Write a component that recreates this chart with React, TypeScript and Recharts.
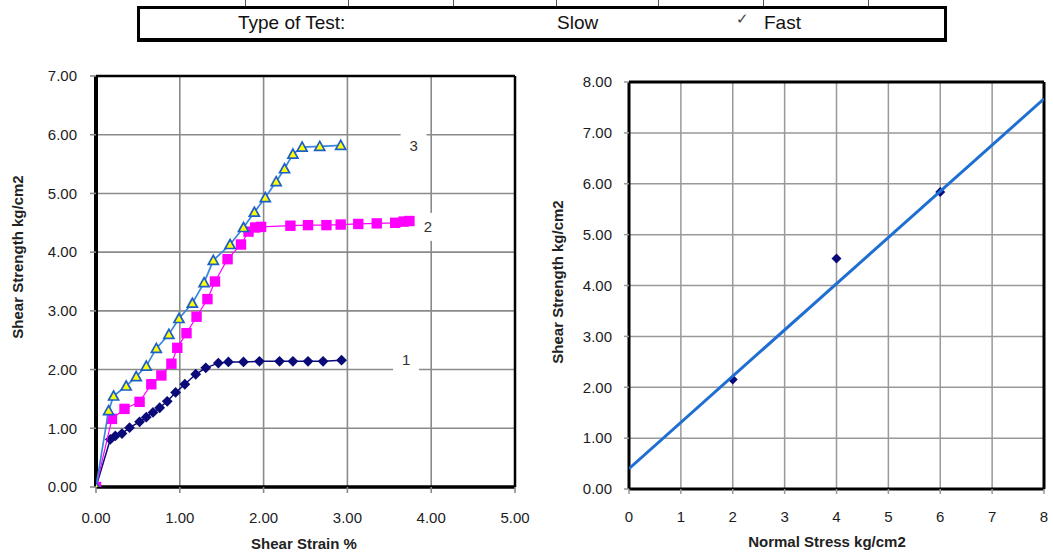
import React from 'react';
import { ScatterChart, Scatter, XAxis, YAxis, CartesianGrid, ReferenceLine, ReferenceDot } from 'recharts';

// ---------- Data ----------
const strainTicks = [0, 1, 2, 3, 4, 5];
const leftStrengthTicks = [0, 1, 2, 3, 4, 5, 6, 7];
const stressTicks = [0, 1, 2, 3, 4, 5, 6, 7, 8];
const rightStrengthTicks = [0, 1, 2, 3, 4, 5, 6, 7, 8];

// Test 1 (navy diamonds)
const series1 = [
  { x: 0, y: 0 }, { x: 0.17, y: 0.81 }, { x: 0.23, y: 0.87 }, { x: 0.31, y: 0.91 },
  { x: 0.4, y: 1.01 }, { x: 0.52, y: 1.11 }, { x: 0.6, y: 1.19 }, { x: 0.68, y: 1.27 },
  { x: 0.76, y: 1.35 }, { x: 0.85, y: 1.46 }, { x: 0.95, y: 1.61 }, { x: 1.06, y: 1.75 },
  { x: 1.19, y: 1.92 }, { x: 1.31, y: 2.03 }, { x: 1.46, y: 2.11 }, { x: 1.58, y: 2.13 },
  { x: 1.76, y: 2.13 }, { x: 1.95, y: 2.14 }, { x: 2.19, y: 2.14 }, { x: 2.35, y: 2.14 },
  { x: 2.53, y: 2.14 }, { x: 2.71, y: 2.14 }, { x: 2.93, y: 2.16 },
];

// Test 2 (magenta squares)
const series2 = [
  { x: 0, y: 0 }, { x: 0.19, y: 1.16 }, { x: 0.34, y: 1.33 }, { x: 0.52, y: 1.45 },
  { x: 0.66, y: 1.75 }, { x: 0.78, y: 1.9 }, { x: 0.9, y: 2.1 }, { x: 0.97, y: 2.37 },
  { x: 1.08, y: 2.62 }, { x: 1.2, y: 2.9 }, { x: 1.33, y: 3.2 }, { x: 1.42, y: 3.5 },
  { x: 1.57, y: 3.88 }, { x: 1.73, y: 4.13 }, { x: 1.82, y: 4.35 }, { x: 1.9, y: 4.42 },
  { x: 1.97, y: 4.43 }, { x: 2.32, y: 4.45 }, { x: 2.53, y: 4.46 }, { x: 2.75, y: 4.46 },
  { x: 2.92, y: 4.47 }, { x: 3.13, y: 4.48 }, { x: 3.35, y: 4.49 }, { x: 3.57, y: 4.5 },
  { x: 3.67, y: 4.52 }, { x: 3.74, y: 4.53 },
];

// Test 3 (yellow triangles)
const series3 = [
  { x: 0, y: 0 }, { x: 0.15, y: 1.3 }, { x: 0.21, y: 1.55 }, { x: 0.36, y: 1.72 },
  { x: 0.48, y: 1.88 }, { x: 0.6, y: 2.06 }, { x: 0.72, y: 2.36 }, { x: 0.87, y: 2.6 },
  { x: 0.99, y: 2.87 }, { x: 1.15, y: 3.13 }, { x: 1.29, y: 3.48 }, { x: 1.4, y: 3.86 },
  { x: 1.6, y: 4.13 }, { x: 1.76, y: 4.42 }, { x: 1.89, y: 4.68 }, { x: 2.02, y: 4.93 },
  { x: 2.15, y: 5.2 }, { x: 2.25, y: 5.42 }, { x: 2.35, y: 5.67 }, { x: 2.46, y: 5.79 },
  { x: 2.67, y: 5.8 }, { x: 2.92, y: 5.82 },
];

// Curve labels
const curveLabels = [
  { text: '3', x: 3.79, y: 5.81 },
  { text: '2', x: 3.96, y: 4.43 },
  { text: '1', x: 3.7, y: 2.16 },
];

// Failure envelope
const peakPoints = [
  { x: 2, y: 2.15 },
  { x: 4, y: 4.53 },
  { x: 6, y: 5.84 },
];
const envelope = [
  { x: 0, y: 0.4 },
  { x: 8, y: 7.67 },
];

// ---------- Styles ----------
const FONT = '"Liberation Sans", Arial, sans-serif';
const tickStyle = { fill: '#1c1c1c', fontSize: 15, fontFamily: FONT };
const gridColor = '#8a8a8a';
const fmt2 = (v: number) => v.toFixed(2);

const Diamond = (p: any) => {
  const { cx, cy } = p;
  const r = 5.4;
  return <polygon points={`${cx},${cy - r} ${cx + r},${cy} ${cx},${cy + r} ${cx - r},${cy}`} fill="#0a0a78" />;
};
const Square = (p: any) => {
  const { cx, cy } = p;
  const r = 5.2;
  return <rect x={cx - r} y={cy - r} width={2 * r} height={2 * r} fill="#ff00ff" />;
};
const Triangle = (p: any) => {
  const { cx, cy } = p;
  const r = 5;
  return (
    <polygon
      points={`${cx},${cy - r} ${cx + r},${cy + r * 0.8} ${cx - r},${cy + r * 0.8}`}
      fill="#ffff00"
      stroke="#1d5fc8"
      strokeWidth={1.7}
    />
  );
};
const SmallDiamond = (p: any) => {
  const { cx, cy } = p;
  const r = 5;
  return <polygon points={`${cx},${cy - r} ${cx + r},${cy} ${cx},${cy + r} ${cx - r},${cy}`} fill="#0a0a78" />;
};
const NoShape = () => <g />;

const makeLabelShape = (text: string) => (p: any) => {
  const { cx, cy } = p;
  return (
    <g>
      <rect x={cx - 13} y={cy - 14} width={26} height={28} fill="#ffffff" />
      <text x={cx} y={cy + 5} textAnchor="middle" fontSize={15} fontFamily={FONT} fill="#333">
        {text}
      </text>
    </g>
  );
};

const headerTicks = [245, 348, 453, 556, 658, 763, 868];

export default function App() {
  return (
    <div style={{ position: 'absolute', left: 0, top: 0, width: 1053, height: 554, background: '#fff', overflow: 'hidden', fontFamily: FONT }}>
      {/* Header box */}
      {headerTicks.map((x) => (
        <div key={x} style={{ position: 'absolute', left: x, top: 0, width: 1, height: 7, background: '#555' }} />
      ))}
      <div
        style={{
          position: 'absolute', left: 137, top: 6, width: 810, height: 36, boxSizing: 'border-box',
          border: '3px solid #000', borderBottomWidth: 4,
        }}
      />
      <div style={{ position: 'absolute', left: 238, top: 12, fontSize: 19, color: '#111', whiteSpace: 'nowrap' }}>Type of Test:</div>
      <div style={{ position: 'absolute', left: 557, top: 12, fontSize: 19, color: '#111' }}>Slow</div>
      <div style={{ position: 'absolute', left: 736, top: 10, fontSize: 15, color: '#444' }}>✓</div>
      <div style={{ position: 'absolute', left: 764, top: 12, fontSize: 19, color: '#111' }}>Fast</div>

      {/* Left chart: stress-strain */}
      <div style={{ position: 'absolute', left: 0, top: 0 }}>
        <ScatterChart width={540} height={554} margin={{ top: 76, right: 25, bottom: 37, left: 36 }}>
          <CartesianGrid stroke={gridColor} strokeWidth={1.6} />
          <XAxis
            type="number" dataKey="x" domain={[0, 5]} ticks={strainTicks} tickFormatter={fmt2}
            height={30} tickSize={6} tickMargin={19} tick={tickStyle}
            axisLine={{ stroke: '#000', strokeWidth: 3.5 }} tickLine={{ stroke: gridColor, strokeWidth: 1.6 }}
            allowDataOverflow
          />
          <YAxis
            type="number" dataKey="y" domain={[0, 7]} ticks={leftStrengthTicks} tickFormatter={fmt2}
            width={60} tickSize={6} tickMargin={13} tick={tickStyle}
            axisLine={{ stroke: '#000', strokeWidth: 4 }} tickLine={{ stroke: gridColor, strokeWidth: 1.6 }}
            allowDataOverflow
          />
          <ReferenceLine y={7} stroke="#000" strokeWidth={2.5} />
          <ReferenceLine x={5} stroke="#000" strokeWidth={2.5} />
          {curveLabels.map((l) => (
            <ReferenceDot key={l.text} x={l.x} y={l.y} r={1} shape={makeLabelShape(l.text)} ifOverflow="visible" />
          ))}
          <Scatter data={series1} line={{ stroke: '#0a0a78', strokeWidth: 1.5 }} shape={Diamond} isAnimationActive={false} />
          <Scatter data={series2} line={{ stroke: '#ff00ff', strokeWidth: 1.2 }} shape={Square} isAnimationActive={false} />
          <Scatter data={series3} line={{ stroke: '#3a86dc', strokeWidth: 1.7 }} shape={Triangle} isAnimationActive={false} />
        </ScatterChart>
      </div>

      {/* Right chart: failure envelope */}
      <div style={{ position: 'absolute', left: 540, top: 0 }}>
        <ScatterChart width={513} height={554} margin={{ top: 82, right: 9, bottom: 35, left: 29 }}>
          <CartesianGrid stroke="#999" strokeWidth={1.5} />
          <XAxis
            type="number" dataKey="x" domain={[0, 8]} ticks={stressTicks}
            height={30} tickSize={5} tickMargin={17} tick={tickStyle}
            axisLine={{ stroke: '#000', strokeWidth: 3 }} tickLine={{ stroke: '#999', strokeWidth: 1.5 }}
            allowDataOverflow
          />
          <YAxis
            type="number" dataKey="y" domain={[0, 8]} ticks={rightStrengthTicks} tickFormatter={fmt2}
            width={60} tickSize={5} tickMargin={12} tick={tickStyle}
            axisLine={{ stroke: '#000', strokeWidth: 3 }} tickLine={{ stroke: '#999', strokeWidth: 1.5 }}
            allowDataOverflow
          />
          <ReferenceLine y={8} stroke="#000" strokeWidth={3} />
          <ReferenceLine x={8} stroke="#000" strokeWidth={3} />
          <Scatter data={peakPoints} shape={SmallDiamond} isAnimationActive={false} />
          <Scatter data={envelope} line={{ stroke: '#1f6fd2', strokeWidth: 3 }} shape={NoShape} isAnimationActive={false} />
        </ScatterChart>
      </div>

      {/* Axis titles */}
      <svg width={1053} height={554} style={{ position: 'absolute', left: 0, top: 0, pointerEvents: 'none' }}>
        <text x={23} y={257} transform="rotate(-90 23 257)" textAnchor="middle" fontSize={15} fontWeight="bold" fontFamily={FONT} fill="#222">
          Shear Strength kg/cm2
        </text>
        <text x={304} y={549} textAnchor="middle" fontSize={15} fontWeight="bold" fontFamily={FONT} fill="#222">
          Shear Strain %
        </text>
        <text x={563} y={282} transform="rotate(-90 563 282)" textAnchor="middle" fontSize={15} fontWeight="bold" fontFamily={FONT} fill="#222">
          Shear Strength kg/cm2
        </text>
        <text x={827} y={547} textAnchor="middle" fontSize={15} fontWeight="bold" fontFamily={FONT} fill="#222">
          Normal Stress kg/cm2
        </text>
      </svg>
    </div>
  );
}
